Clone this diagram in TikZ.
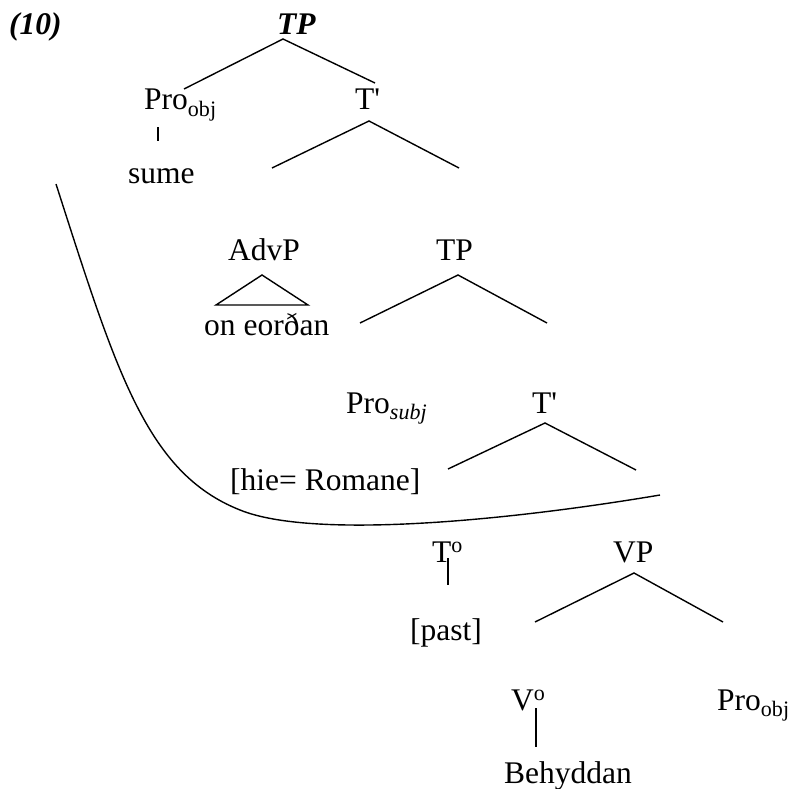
\documentclass[tikz,border=0pt]{standalone}
\usepackage{fontspec}
\newfontfamily\treefont{Liberation Serif}
\usepackage{tikz}
\usetikzlibrary{positioning}

\tikzset{
    lbl/.style={anchor=base west, inner sep=0pt, font=\treefont\fontsize{31.5}{38}\selectfont},
    branch/.style={line width=1.4pt}
}

\begin{document}
\begin{tikzpicture}[x=1pt, y=-1pt]
    \useasboundingbox (0,0) rectangle (788,789);
    % labels
    \node[lbl] (ex) at (9,35) {\bfseries\itshape (10)};
    \node[lbl] (node1_1) at (277,35) {\bfseries\itshape TP};
    \node[lbl] (node2_1) at (144,110) {Pro\textsubscript{obj}};
    \node[lbl] (node2_2) at (355,110) {T'};
    \node[lbl] (node3_1) at (128,183) {sume};
    \node[lbl] (node4_1) at (228,260) {AdvP};
    \node[lbl] (node4_2) at (436,260) {TP};
    \node[lbl] (node5_1) at (204,335) {on eorðan};
    \node[lbl] (node6_1) at (346,413) {Pro\textsubscript{\itshape subj}};
    \node[lbl] (node6_2) at (532,413) {T'};
    \node[lbl] (node7_1) at (230,490) {[hie= Romane]};
    \node[lbl] (node8_1) at (432,562) {T\textsuperscript{o}};
    \node[lbl] (node8_2) at (613,562) {VP};
    \node[lbl] (node9_1) at (410,640) {[past]};
    \node[lbl] (node10_1) at (511,710) {V\textsuperscript{o}};
    \node[lbl] (node10_2) at (717,710) {Pro\textsubscript{obj}};
    \node[lbl] (node11_1) at (504,783) {Behyddan};
    % branch ends
    \coordinate (node1_1b) at (283,39);
    \coordinate (node2_1t) at (184,89);
    \coordinate (node2_2t) at (375,83);
    \coordinate (node2_1b) at (158,127);
    \coordinate (node3_1t) at (158,141);
    \coordinate (node2_2b) at (369,121);
    \coordinate (node2_2l) at (272,168);
    \coordinate (node2_2r) at (459,168);
    \coordinate (node4_1b) at (262,275);
    \coordinate (node4_1l) at (216,305);
    \coordinate (node4_1r) at (308,305);
    \coordinate (node4_2b) at (458,275);
    \coordinate (node4_2l) at (360,323);
    \coordinate (node4_2r) at (547,323);
    \coordinate (node6_2b) at (545,423);
    \coordinate (node6_2l) at (448,469);
    \coordinate (node6_2r) at (636,470);
    \coordinate (node8_1b) at (448,558);
    \coordinate (node9_1t) at (448,585);
    \coordinate (node8_2b) at (634,573);
    \coordinate (node8_2l) at (535,622);
    \coordinate (node8_2r) at (723,622);
    \coordinate (node10_1b) at (536,708);
    \coordinate (node11_1t) at (536,747);
    % branches
    \draw[branch] (node2_1t) -- (node1_1b) -- (node2_2t);
    \draw[branch] (node2_1b) -- (node3_1t);
    \draw[branch] (node2_2l) -- (node2_2b) -- (node2_2r);
    \draw[branch] (node4_1l) -- (node4_1b) -- (node4_1r) -- cycle;
    \draw[branch] (node4_2l) -- (node4_2b) -- (node4_2r);
    \draw[branch] (node6_2l) -- (node6_2b) -- (node6_2r);
    \draw[branch] (node8_1b) -- (node9_1t);
    \draw[branch] (node8_2l) -- (node8_2b) -- (node8_2r);
    \draw[branch] (node10_1b) -- (node11_1t);
    % curve
    \draw[branch] (56,184) .. controls (117,374) and (147,473) .. (240,510)
        .. controls (314,540) and (512,520) .. (660,495);
\end{tikzpicture}
\end{document}
